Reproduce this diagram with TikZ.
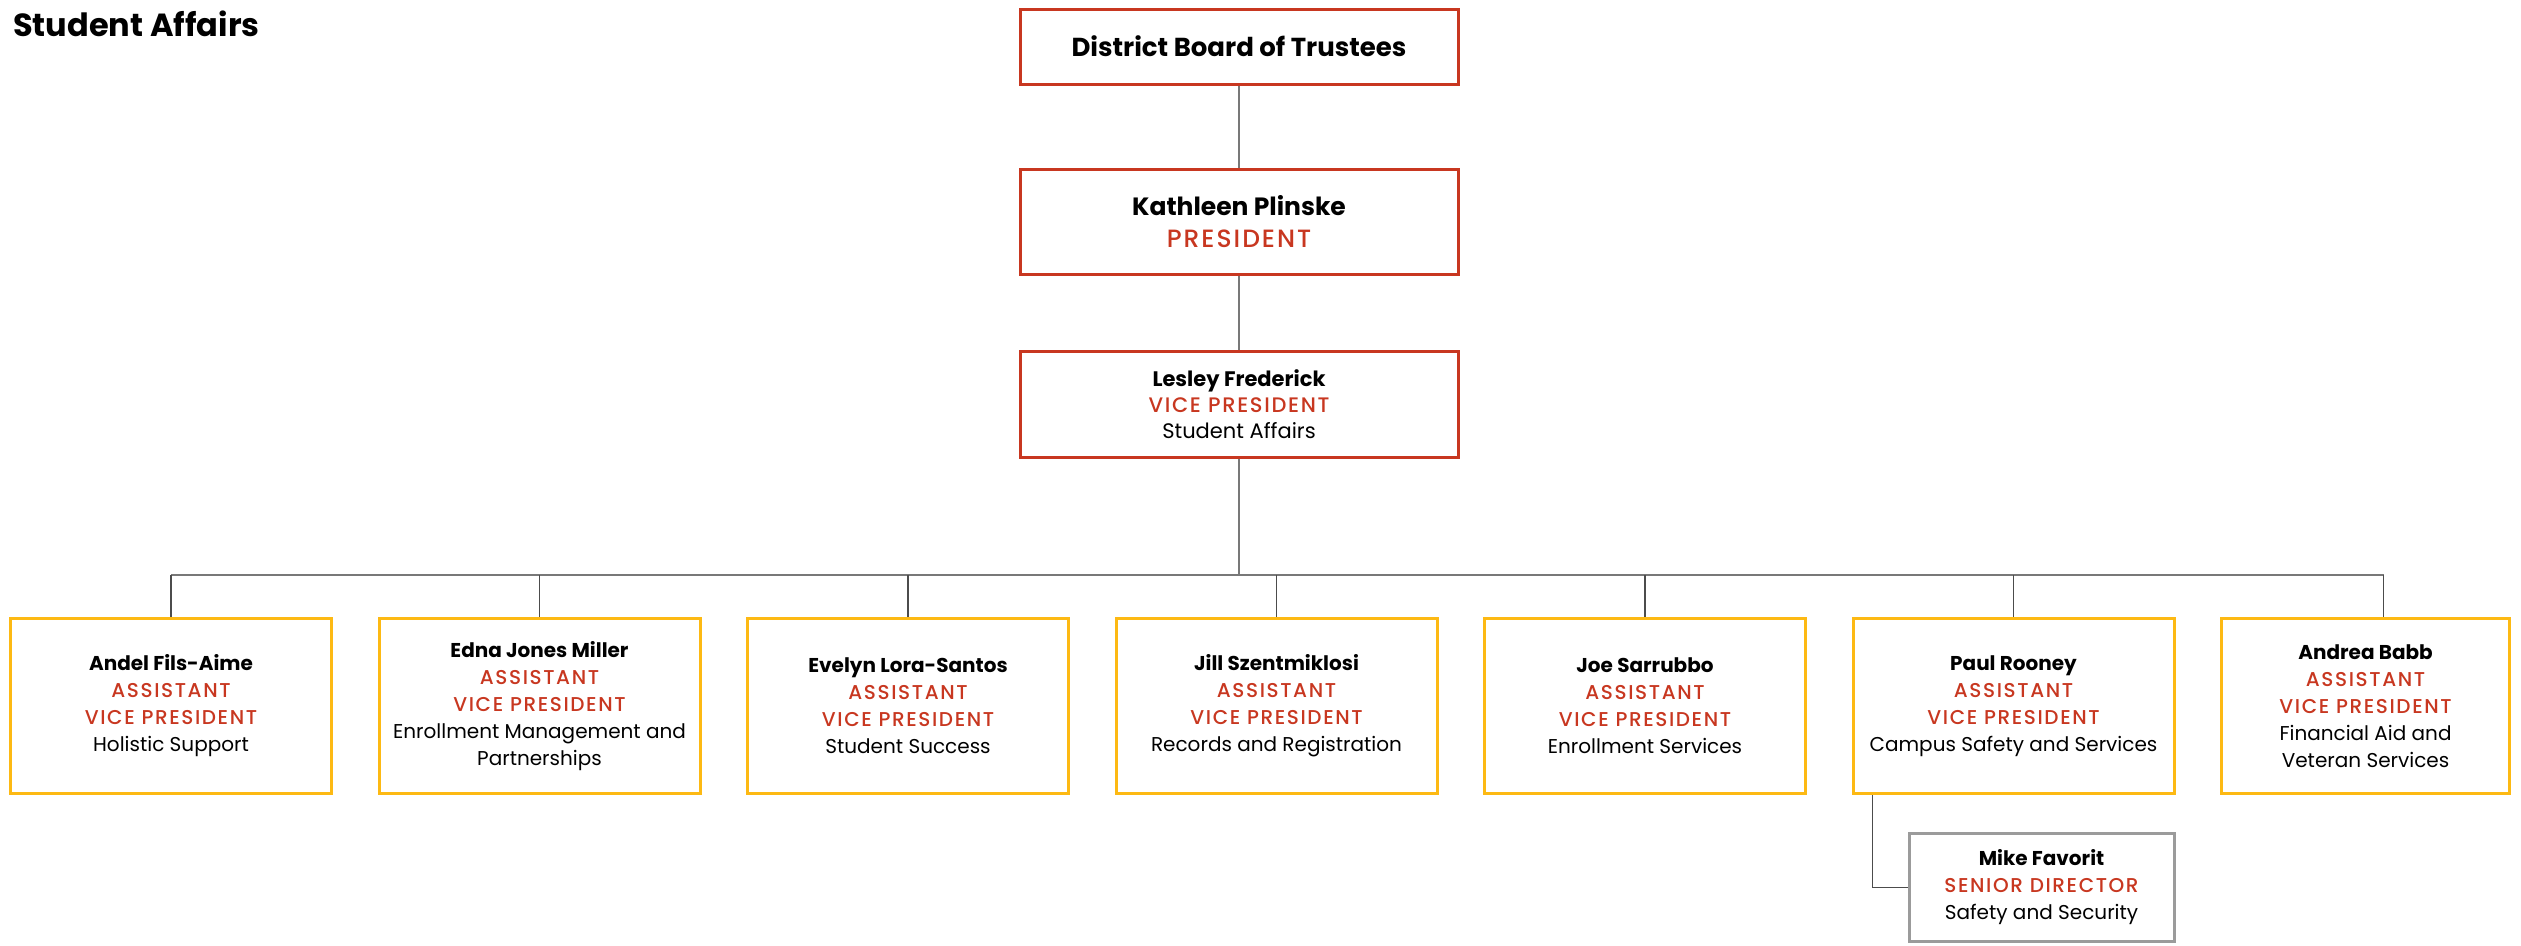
\documentclass[tikz,border=0pt]{standalone}
\usepackage{fontspec}
\setmainfont{Poppins}
\newfontfamily\rolefont{Poppins Medium}[LetterSpace=8]
\usetikzlibrary{positioning,calc}
\definecolor{ored}{RGB}{200,55,32}
\definecolor{oyellow}{RGB}{253,185,19}
\definecolor{ogray}{RGB}{155,155,155}
\definecolor{olink}{RGB}{120,120,120}
\tikzset{
  topbox/.style={draw=ored, line width=3pt, align=center, inner sep=0pt,
                 minimum width=438pt},
  avpbox/.style={draw=oyellow, line width=3pt, align=center, inner sep=0pt,
                 minimum width=321pt, minimum height=175pt,
                 font=\fontsize{20}{27}\selectfont},
  dirbox/.style={draw=ogray, line width=3pt, align=center, inner sep=0pt,
                 minimum width=265pt, minimum height=108pt,
                 font=\fontsize{20}{27}\selectfont},
  trunk/.style={draw=olink, line width=2pt},
  drop/.style={draw=black!70, line width=1.3pt},
}
\newcommand{\rolename}[1]{{\rolefont\color{ored}#1}}
\newcommand{\avptitle}{\rolename{ASSISTANT}\\\rolename{VICE PRESIDENT}}

\begin{document}
\begin{tikzpicture}[x=1pt, y=-1pt, node distance=44.5pt]
    \path[use as bounding box, fill=white] (0,0) rectangle (2521,945);
    \node[anchor=west, inner sep=0pt, font=\fontsize{32}{38}\selectfont\bfseries]
      (title) at (13,24) {Student Affairs};
    % top of the chart
    \node[topbox, minimum height=75pt, font=\fontsize{26}{32}\selectfont\bfseries]
      (board) at (1239,46.5) {District Board of Trustees};
    \node[topbox, minimum height=105pt, font=\fontsize{25}{32}\selectfont,
      below=82pt of board] (pres) {\textbf{Kathleen Plinske}\\\rolename{PRESIDENT}};
    \node[topbox, minimum height=106pt, font=\fontsize{21}{26}\selectfont,
      below=74pt of pres] (vp)
      {\textbf{Lesley Frederick}\\\rolename{VICE PRESIDENT}\\Student Affairs};
    % assistant vice presidents
    \node[avpbox, anchor=north west] (andel) at (9,617)
      {\textbf{Andel Fils-Aime}\\\avptitle\\Holistic Support};
    \node[avpbox, right=of andel] (edna)
      {\textbf{Edna Jones Miller}\\\avptitle\\Enrollment Management and\\Partnerships};
    \node[avpbox, right=of edna] (evelyn)
      {\textbf{Evelyn Lora-Santos}\\\avptitle\\Student Success};
    \node[avpbox, right=of evelyn] (jill)
      {\textbf{Jill Szentmiklosi}\\\avptitle\\Records and Registration};
    \node[avpbox, right=of jill] (joe)
      {\textbf{Joe Sarrubbo}\\\avptitle\\Enrollment Services};
    \node[avpbox, right=of joe] (paul)
      {\textbf{Paul Rooney}\\\avptitle\\Campus Safety and Services};
    \node[avpbox, minimum width=288pt, right=of paul] (andrea)
      {\textbf{Andrea Babb}\\\avptitle\\Financial Aid and\\Veteran Services};
    \node[dirbox, below=37pt of paul.south east, anchor=north east] (mike)
      {\textbf{Mike Favorit}\\\rolename{SENIOR DIRECTOR}\\Safety and Security};
    % connectors
    \coordinate (bus) at (0,575);
    \coordinate (babb) at ($(andrea.north)+(18,0)$);
    \draw[trunk] (board) -- (pres);
    \draw[trunk] (pres) -- (vp);
    \draw[trunk] (vp.south) -- (vp.south |- bus);
    \draw[trunk] (andel.north |- bus) -- (babb |- bus);
    \foreach \n in {andel,edna,evelyn,jill,joe,paul}
      \draw[drop] (\n.north |- bus) -- (\n.north);
    \draw[drop] (babb |- bus) -- (babb);
    \draw[drop] ($(paul.south west)+(21,0)$) |- (mike.west);
  \end{tikzpicture}
\end{document}
